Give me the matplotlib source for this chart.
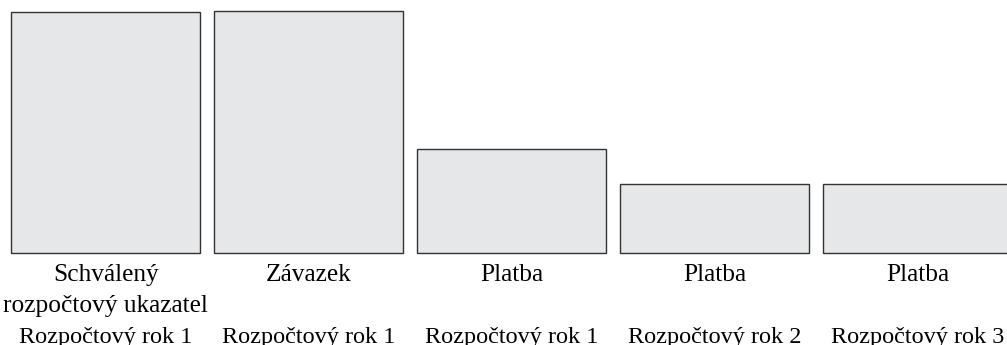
import matplotlib
matplotlib.use("Agg")
import matplotlib.pyplot as plt
from matplotlib.transforms import blended_transform_factory

# data (relative amounts, first box = 100)
values = [100, 100.5, 43.2, 28.6, 28.6]
top_labels = ["Schválený\nrozpočtový ukazatel", "Závazek", "Platba", "Platba", "Platba"]
year_labels = ["Rozpočtový rok 1", "Rozpočtový rok 1", "Rozpočtový rok 1",
               "Rozpočtový rok 2", "Rozpočtový rok 3"]

W, H = 1007, 345
fig = plt.figure(figsize=(W / 100, H / 100), dpi=100)
plt.rcParams['font.family'] = ['Liberation Serif', 'DejaVu Serif']

# axes: baseline at 92 px from bottom, 100 units = 241 px
ax = fig.add_axes([0, 92 / H, 1, 241 / H])
x = list(range(len(values)))
ax.bar(x, values, width=0.93, color="#e6e7e8", edgecolor="#333333",
       linewidth=1.0, clip_on=False)
ax.set_xlim(-0.52, 4.44)
ax.set_ylim(0, 100)
ax.axis("off")

trans = blended_transform_factory(ax.transData, fig.transFigure)
for xi, lab in zip(x, top_labels):
    for i, line in enumerate(lab.split("\n")):
        ax.text(xi, (H - 281 - 31 * i) / H, line, transform=trans, ha="center",
                va="baseline", fontsize=18.3, color="black", clip_on=False)

for xi, lab in zip(x, year_labels):
    ax.text(xi, (H - 343) / H, lab, transform=trans, ha="center",
            va="baseline", fontsize=17.5, color="black", clip_on=False)

fig.savefig("out.png", dpi=100, facecolor="white")
